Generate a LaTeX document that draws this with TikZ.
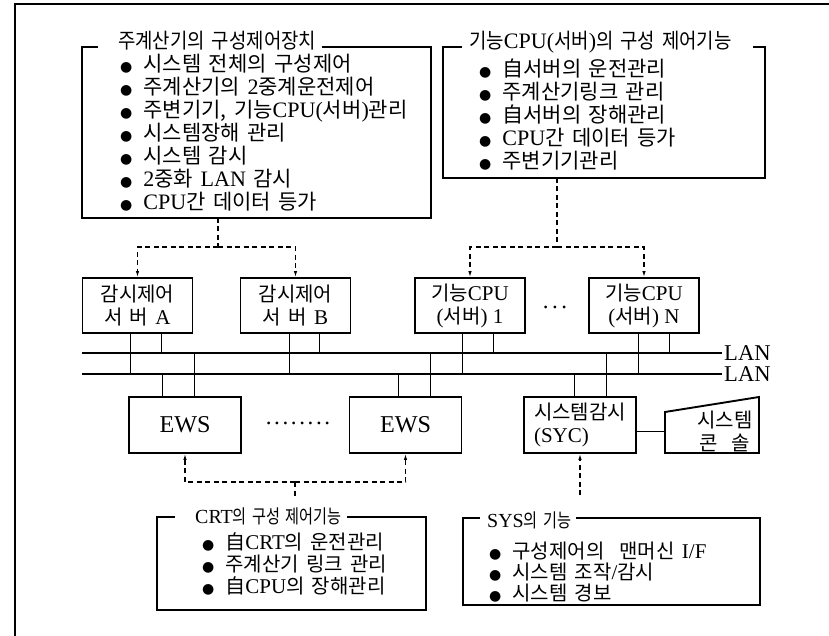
\documentclass[tikz,border=0pt]{standalone}
\usepackage{fontspec}
\setmainfont{Noto Sans CJK KR}[WordSpace=1.6]
\newfontfamily\latn{Liberation Serif}[Scale=1.05]
\newfontfamily\symf{DejaVu Sans}
\usetikzlibrary{arrows.meta}
\newcommand\ltn[1]{{\latn #1}}
\newcommand\bul{{\symf\fontsize{14}{14}\selectfont ●}\hspace{11pt}}
\newcommand\dotrow{{\latn .\kern2.6pt.\kern2.6pt.\kern2.6pt.\kern2.6pt.\kern2.6pt.\kern2.6pt.\kern2.6pt.}}
\tikzset{
  frameline/.style={line width=1.3pt},
  infobox/.style={line width=1.3pt},
  unit/.style={draw, line width=1.9pt, minimum width=110pt, minimum height=55pt,
    inner sep=0pt, align=center, font=\fontsize{20}{23}\selectfont},
  txt/.style={inner sep=0pt, anchor=base west, font=\fontsize{21}{23}\selectfont},
  smalltxt/.style={txt, font=\fontsize{20}{22}\selectfont},
  ttl/.style={txt, inner xsep=6pt,
    font=\fontsize{21}{23}\selectfont\addfontfeature{FakeStretch=0.9}},
  narrowttl/.style={txt, inner xsep=5pt,
    font=\fontsize{19}{22}\selectfont\addfontfeature{FakeStretch=0.8}},
  lanline/.style={line width=2.2pt},
  stub/.style={line width=1pt},
  dashconn/.style={line width=1.1pt, dash pattern=on 5pt off 3.5pt},
  arr/.style={-{Latex[length=6pt,width=3.5pt]}},
}
\begin{document}
\begin{tikzpicture}[x=1pt,y=-1pt]
\useasboundingbox (0,0) rectangle (829,636);
% open outer frame
\draw[frameline] (15,636) -- (15,4) -- (829,4);

% main computer configuration control box
\coordinate (y1) at (0,47);
\node[ttl] (h1) at (112,49) {주계산기의 구성제어장치};
\draw[infobox] (98,47) -| (82,218) -| (431,47) -- (h1.east |- y1);
\node[txt] (h1a) at (120,72)  {\bul 시스템 전체의 구성제어};
\node[txt] (h1b) at (120,95)  {\bul 주계산기의 \ltn{2}중계운전제어};
\node[txt] (h1c) at (120,118) {\bul 주변기기, 기능\ltn{CPU(}서버\ltn{)}관리};
\node[txt] (h1d) at (120,141) {\bul 시스템장해 관리};
\node[txt] (h1e) at (120,164) {\bul 시스템 감시};
\node[txt] (h1f) at (120,187) {\bul \ltn{2}중화 \ltn{LAN} 감시};
\node[txt] (h1g) at (120,210) {\bul \ltn{CPU}간 데이터 등가};

% function CPU configuration box
\node[ttl] (h2) at (463,49) {기능\ltn{CPU(}서버\ltn{)}의 구성 제어기능};
\draw[infobox] (462,47) -- (443,47) |- (765,178) -- (765,47) -- (753,47);
\node[txt] (h2a) at (479,77)  {\bul 自서버의 운전관리};
\node[txt] (h2b) at (479,100) {\bul 주계산기링크 관리};
\node[txt] (h2c) at (479,123) {\bul 自서버의 장해관리};
\node[txt] (h2d) at (479,146) {\bul \ltn{CPU}간 데이터 등가};
\node[txt] (h2e) at (479,169) {\bul 주변기기관리};

% servers
\node[unit] (A)  at (137.5,305.5) {감시제어\\서 버 \ltn{A}};
\node[unit] (B)  at (295.5,305.5) {감시제어\\서 버 \ltn{B}};
\node[unit] (C1) at (470,305.5) {기능\ltn{CPU}\\\ltn{(}서버\ltn{) 1}};
\node[unit] (CN) at (644,305.5) {기능\ltn{CPU}\\\ltn{(}서버\ltn{) N}};
\node[inner sep=0pt, font=\fontsize{22}{22}\selectfont] (dots1) at (555,307) {\ltn{.\kern3.5pt.\kern3.5pt.}};

% dashed links from the upper boxes
\coordinate (d1) at (218,218);
\coordinate (j1) at (218,247);
\draw[dashconn] (d1) -- (j1);
\draw[dashconn,arr] (j1) -| (A.north);
\draw[dashconn,arr] (j1) -| (B.north);
\coordinate (d2) at (557,178);
\coordinate (j2) at (557,247);
\draw[dashconn] (d2) -- (j2);
\draw[dashconn,arr] (j2) -| (C1.north);
\draw[dashconn,arr] (j2) -| (CN.north);

% duplicated LAN
\coordinate (l1w) at (82,353);
\coordinate (l2w) at (82,374);
\node[inner sep=2pt, anchor=west, font=\fontsize{21.5}{22}\selectfont] (L1) at (722,353) {\ltn{LAN}};
\node[inner sep=2pt, anchor=west, font=\fontsize{21.5}{22}\selectfont] (L2) at (722,374) {\ltn{LAN}};
\draw[lanline] (l1w) -- (L1.west);
\draw[lanline] (l2w) -- (L2.west);

% server drops
\draw[stub] ([xshift=-7pt]A.south) -- ([xshift=-7pt]A.south |- l2w);
\draw[stub] ([xshift=24pt]A.south) -- ([xshift=24pt]A.south |- l1w);
\draw[stub] ([xshift=-6.5pt]B.south) -- ([xshift=-6.5pt]B.south |- l2w);
\draw[stub] ([xshift=23.5pt]B.south) -- ([xshift=23.5pt]B.south |- l1w);
\draw[stub] ([xshift=-8pt]C1.south) -- ([xshift=-8pt]C1.south |- l2w);
\draw[stub] ([xshift=23pt]C1.south) -- ([xshift=23pt]C1.south |- l1w);
\draw[stub] ([xshift=-6pt]CN.south) -- ([xshift=-6pt]CN.south |- l2w);
\draw[stub] ([xshift=25pt]CN.south) -- ([xshift=25pt]CN.south |- l1w);

% workstations and system supervisor
\node[unit, minimum width=112pt, minimum height=56pt, font=\latn\fontsize{23}{23}\selectfont] (E1) at (185,425) {EWS};
\node[unit, minimum width=112pt, minimum height=56pt, font=\latn\fontsize{23}{23}\selectfont] (E2) at (405.5,425) {EWS};
\node[inner sep=0pt, font=\fontsize{22}{22}\selectfont] (dots2) at (298,423) {\dotrow};
\node[unit, minimum width=112pt, minimum height=56pt, align=left] (S) at (580,425) {시스템감시\\\ltn{(SYC)}};

\draw[stub] ([xshift=-23pt]E1.north) -- ([xshift=-23pt]E1.north |- l2w);
\draw[stub] ([xshift=9pt]E1.north) -- ([xshift=9pt]E1.north |- l1w);
\draw[stub] ([xshift=-7.5pt]E2.north) -- ([xshift=-7.5pt]E2.north |- l2w);
\draw[stub] ([xshift=24.5pt]E2.north) -- ([xshift=24.5pt]E2.north |- l1w);
\draw[stub] ([xshift=-6pt]S.north) -- ([xshift=-6pt]S.north |- l2w);
\draw[stub] ([xshift=26pt]S.north) -- ([xshift=26pt]S.north |- l1w);

% system console
\draw[line width=1.9pt] (665,412) -- (759,397) -- (759,453) -- (665,453) -- cycle;
\coordinate (conL) at (665,431);
\draw[stub] ([yshift=-6pt]S.east) -- (conL);
\node[align=center, inner sep=0pt, font=\fontsize{20}{23}\selectfont] (con) at (725,431) {시스템\\콘\hspace{14pt}솔};

% dashed links to the lower boxes
\coordinate (j3) at (295,482);
\draw[dashconn,arr] (j3) -| (E1.south);
\draw[dashconn,arr] (j3) -| (E2.south);
\coordinate (d3) at (295,497);
\draw[dashconn] (j3) -- (d3);
\coordinate (d4) at (580,495);
\draw[dashconn,arr] (d4) -- (S.south);

% CRT configuration control box
\coordinate (y3) at (0,517);
\node[narrowttl] (h3) at (190,523) {\ltn{CRT}의 구성 제어기능};
\draw[infobox] (175,517) -- (157,517) |- (426,610) -- (426,517) -- (h3.east |- y3);
\node[smalltxt] (h3a) at (202,549) {\bul 自\ltn{CRT}의 운전관리};
\node[smalltxt] (h3b) at (202,571) {\bul 주계산기 링크 관리};
\node[smalltxt] (h3c) at (202,593) {\bul 自\ltn{CPU}의 장해관리};

% SYS function box
\coordinate (y4) at (0,518);
\node[narrowttl] (h4) at (482,527) {\ltn{SYS}의 기능};
\draw[infobox] (480,518) -- (463,518) |- (760,605) -- (760,518) -- (h4.east |- y4);
\node[smalltxt] (h4a) at (489,558) {\bul 구성제어의\hspace{8pt} 맨머신 \ltn{I/F}};
\node[smalltxt] (h4b) at (489,579) {\bul 시스템 조작\ltn{/}감시};
\node[smalltxt] (h4c) at (489,600) {\bul 시스템 경보};
\end{tikzpicture}
\end{document}
